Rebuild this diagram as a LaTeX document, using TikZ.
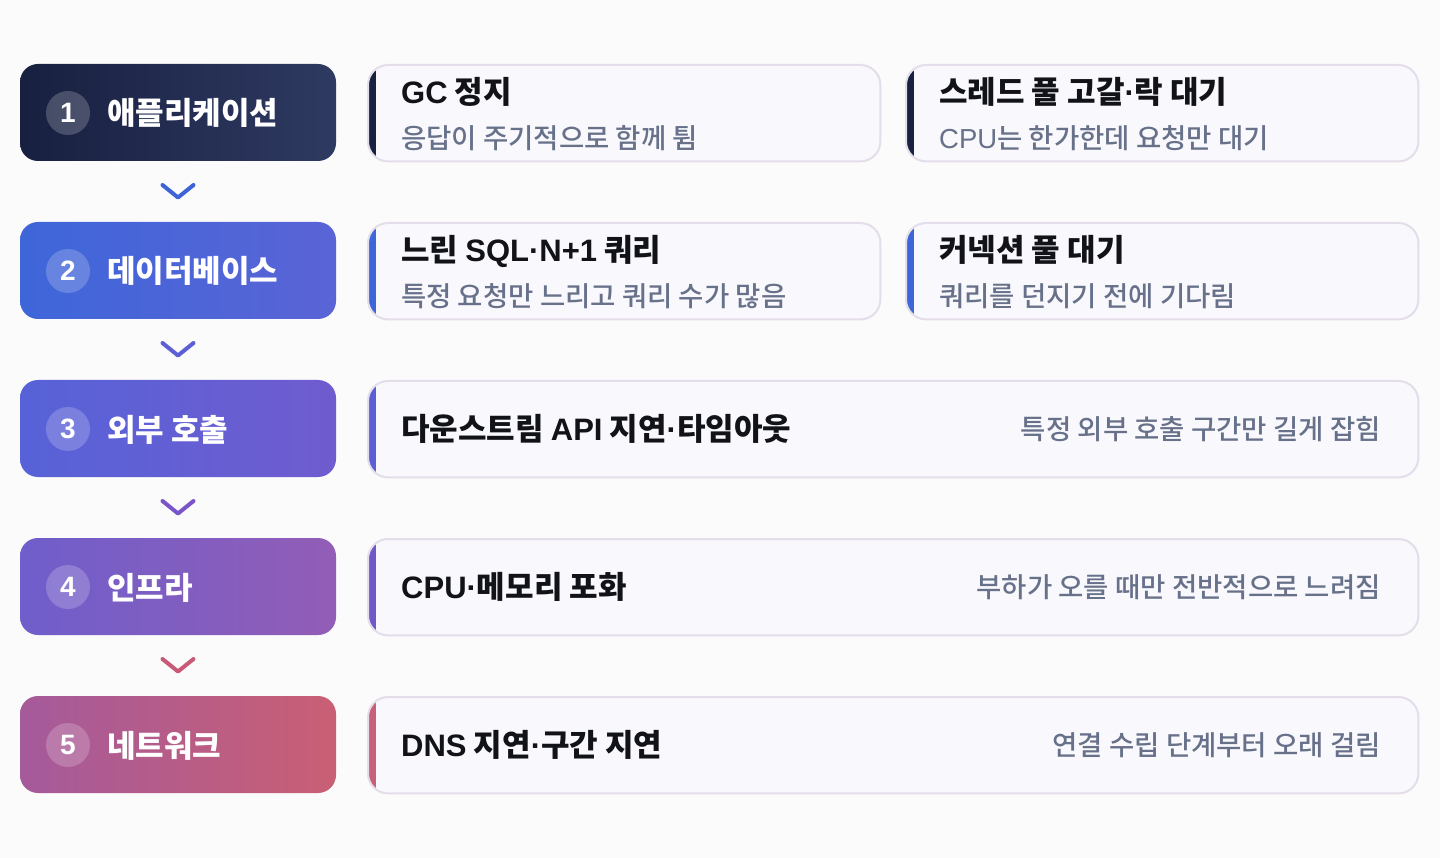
\documentclass[tikz,border=0pt]{standalone}
\usepackage{fontspec}
\setmainfont{Noto Sans CJK KR}
\newfontfamily\subf{Noto Sans CJK KR Medium}
\newfontfamily\latinf{Liberation Sans}
\newcommand{\md}{{\latinf ·}}
\newcommand{\la}[1]{{\latinf #1}}
\usetikzlibrary{calc}
\definecolor{bg}{HTML}{FCFBFB}
\definecolor{cardfill}{HTML}{F9F8FC}
\definecolor{cardline}{HTML}{E4DDEA}
\definecolor{ttl}{HTML}{111318}
\definecolor{sub}{HTML}{67718A}
\definecolor{aA}{HTML}{182040}\definecolor{aB}{HTML}{2F3A62}
\definecolor{bA}{HTML}{3E66D9}\definecolor{bB}{HTML}{5A64D6}
\definecolor{cA}{HTML}{5762D8}\definecolor{cB}{HTML}{6F5CCF}
\definecolor{dA}{HTML}{6F5ECB}\definecolor{dB}{HTML}{925DB6}
\definecolor{eA}{HTML}{A55A9B}\definecolor{eB}{HTML}{C95F74}
\definecolor{acc1}{HTML}{18213F}
\definecolor{acc2}{HTML}{3E66D9}
\definecolor{acc3}{HTML}{5A5FD6}
\definecolor{acc4}{HTML}{7257C9}
\definecolor{acc5}{HTML}{C9607A}
\definecolor{chv1}{HTML}{3D63D6}
\definecolor{chv2}{HTML}{5D5FD4}
\definecolor{chv3}{HTML}{7A55C9}
\definecolor{chv4}{HTML}{C85A78}
\tikzset{
  stepbox/.style={rounded corners=18pt, minimum width=316pt, minimum height=97pt, inner sep=0pt},
  numdot/.style={circle, fill=white, fill opacity=0.2, minimum size=44pt, inner sep=0pt},
  numtxt/.style={text=white, font=\latinf\bfseries\fontsize{28}{28}\selectfont, inner sep=0pt},
  boxlbl/.style={text=white, font=\bfseries\fontsize{31}{31}\selectfont, inner sep=0pt, anchor=base west},
  cardbox/.style={fill=cardfill, rounded corners=20pt, minimum height=96pt, inner sep=0pt},
  cardttl/.style={text=ttl, font=\bfseries\fontsize{31}{31}\selectfont, inner sep=0pt, anchor=base west},
  cardsub/.style={text=sub, font=\subf\fontsize{27.5}{27.5}\selectfont, inner sep=0pt, anchor=base west},
  cardsubr/.style={text=sub, font=\subf\fontsize{27.5}{27.5}\selectfont, inner sep=0pt, anchor=base east},
  chevron/.style={line width=4pt, line cap=round, line join=round}
}
% \mkcard{name}{x1}{x2}{ytop}{accent}
\newcommand{\mkcard}[5]{%
  \node[cardbox, minimum width=#3pt-#2pt, anchor=north west] (#1) at (#2,#4) {};
  \begin{scope}
    \clip[rounded corners=20pt] (#1.south west) rectangle (#1.north east);
    \fill[#5] (#1.south west) rectangle ([xshift=8pt]#1.north west);
  \end{scope}
  \draw[cardline, line width=2pt, rounded corners=20pt] (#1.south west) rectangle (#1.north east);
}
\begin{document}
\begin{tikzpicture}[x=1pt,y=-1pt]
\fill[bg] (0,0) rectangle (1440,858);
\useasboundingbox (0,0) rectangle (1440,858);

% left step boxes
\node[stepbox, left color=aA, right color=aB] (b1) at (178,112.5) {};
\node[stepbox, left color=bA, right color=bB] (b2) at (178,270.5) {};
\node[stepbox, left color=cA, right color=cB] (b3) at (178,428.5) {};
\node[stepbox, left color=dA, right color=dB] (b4) at (178,586.5) {};
\node[stepbox, left color=eA, right color=eB] (b5) at (178,744.5) {};

\foreach \i/\y in {1/113, 2/271, 3/429, 4/587, 5/745} {
  \node[numdot] (n\i) at (68,\y) {};
  \node[numtxt] (nt\i) at (68,\y) {\i};
}
\node[boxlbl] (l1) at (107,125) {애플리케이션};
\node[boxlbl] (l2) at (107,283) {데이터베이스};
\node[boxlbl] (l3) at (107,441) {외부 호출};
\node[boxlbl] (l4) at (107,599) {인프라};
\node[boxlbl] (l5) at (107,757) {네트워크};

% chevrons
\coordinate (k1) at ($(b1.south)!0.5!(b2.north)$);
\coordinate (k2) at ($(b2.south)!0.5!(b3.north)$);
\coordinate (k3) at ($(b3.south)!0.5!(b4.north)$);
\coordinate (k4) at ($(b4.south)!0.5!(b5.north)$);
\foreach \k in {1,2,3,4} {
  \draw[chevron, chv\k] ([xshift=-15.5pt,yshift=6.5pt]k\k) -- ([yshift=-6pt]k\k) -- ([xshift=15.5pt,yshift=6.5pt]k\k);
}

% cards
\mkcard{c11}{368}{880}{65}{acc1}
\mkcard{c12}{906}{1418}{65}{acc1}
\mkcard{c21}{368}{880}{223}{acc2}
\mkcard{c22}{906}{1418}{223}{acc2}
\mkcard{c3}{368}{1418}{381}{acc3}
\mkcard{c4}{368}{1418}{539}{acc4}
\mkcard{c5}{368}{1418}{697}{acc5}

\node[cardttl] (t11) at (401,104) {\la{GC} 정지};
\node[cardsub] (s11) at (401,149) {응답이 주기적으로 함께 튐};
\node[cardttl] (t12) at (939,104) {스레드 풀 고갈\md 락 대기};
\node[cardsub] (s12) at (939,149) {\la{CPU}는 한가한데 요청만 대기};
\node[cardttl] (t21) at (401,262) {느린 \la{SQL\md N+1} 쿼리};
\node[cardsub] (s21) at (401,307) {특정 요청만 느리고 쿼리 수가 많음};
\node[cardttl] (t22) at (939,262) {커넥션 풀 대기};
\node[cardsub] (s22) at (939,307) {쿼리를 던지기 전에 기다림};

\node[cardttl] (t3) at (401,440) {다운스트림 \la{API} 지연\md 타임아웃};
\node[cardsubr] (s3) at (1381,439) {특정 외부 호출 구간만 길게 잡힘};
\node[cardttl] (t4) at (401,598) {\la{CPU\md}메모리 포화};
\node[cardsubr] (s4) at (1381,597) {부하가 오를 때만 전반적으로 느려짐};
\node[cardttl] (t5) at (401,756) {\la{DNS} 지연\md 구간 지연};
\node[cardsubr] (s5) at (1381,755) {연결 수립 단계부터 오래 걸림};
\end{tikzpicture}
\end{document}
